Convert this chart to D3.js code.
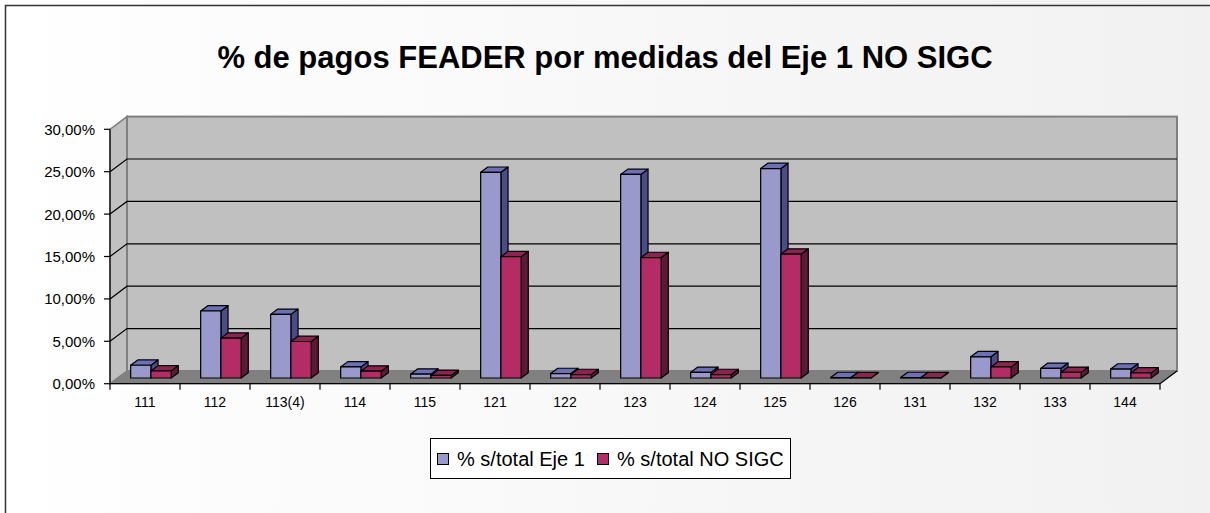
<!DOCTYPE html>
<html>
<head>
<meta charset="utf-8">
<script src="https://cdn.jsdelivr.net/npm/d3@7"></script>
<style>
  body { margin: 0; background: #fff; }
  svg text { font-family: Arial, "Liberation Sans", sans-serif; fill: #000; }
</style>
</head>
<body>
<div id="chart"></div>
<script>
const categories = ['111', '112', '113(4)', '114', '115', '121', '122', '123', '124', '125', '126', '131', '132', '133', '144'];
const seriesNames = ['% s/total Eje 1', '% s/total NO SIGC'];
const ejeValues = [1.5, 7.9, 7.5, 1.3, 0.45, 24.25, 0.52, 24.0, 0.66, 24.7, 0.05, 0.05, 2.5, 1.13, 1.05];
const noSigcValues = [0.83, 4.7, 4.3, 0.8, 0.3, 14.3, 0.4, 14.2, 0.4, 14.6, 0.03, 0.03, 1.3, 0.66, 0.6];
const yTicks = [0, 5, 10, 15, 20, 25, 30];
const titleText = '% de pagos FEADER por medidas del Eje 1 NO SIGC';

const width = 1210, height = 513;
const plot = {left: 110, right: 1160, bottom: 383.7, top: 129.3};
const wall = {dx: 17, dy: -12.7};        // depth of the 3d box
const barFront = 0.45, barBack = 0.87;   // bar depth as fraction of wall depth
const colors = [
    {front: '#9999cc', top: '#6d70b4', side: '#4b4b85'},
    {front: '#b42c66', top: '#8a2552', side: '#5a1a36'}
];

const svg = d3.select('#chart')
    .append('svg')
    .attr('width', width)
    .attr('height', height);

const defs = svg.append('defs');
const bg = defs.append('linearGradient').attr('id', 'bg').attr('x1', 0).attr('x2', 1).attr('y1', 0).attr('y2', 0);
bg.append('stop').attr('offset', '0%').attr('stop-color', '#ffffff');
bg.append('stop').attr('offset', '100%').attr('stop-color', '#f1f1f1');

svg.append('rect')
    .attr('x', 0).attr('y', 0)
    .attr('width', width).attr('height', height)
    .attr('fill', 'url(#bg)');

// outer frame (right and bottom edges are off the picture)
svg.append('path')
    .attr('d', 'M5.5,' + height + ' L5.5,5.5 L' + width + ',5.5')
    .attr('fill', 'none')
    .attr('stroke', '#333')
    .attr('stroke-width', 1.5);

svg.append('text')
    .attr('x', 605)
    .attr('y', 68)
    .attr('text-anchor', 'middle')
    .style('font-size', '31px')
    .style('font-weight', 'bold')
    .text(titleText);

const x = d3.scaleBand()
    .domain(categories)
    .range([plot.left, plot.right]);

const xSeries = d3.scaleBand()
    .domain(seriesNames)
    .range([13, 53.5]);

const y = d3.scaleLinear()
    .domain([0, 30])
    .range([plot.bottom, plot.top]);

function pts(list) {
    return 'M' + list.map(p => p[0] + ',' + p[1]).join('L') + 'Z';
}

const g = svg.append('g');

// left wall
g.append('path')
    .attr('d', pts([[plot.left, plot.top], [plot.left + wall.dx, plot.top + wall.dy],
        [plot.left + wall.dx, plot.bottom + wall.dy], [plot.left, plot.bottom]]))
    .attr('fill', '#c0c0c0')
    .attr('stroke', '#808080')
    .attr('stroke-width', 1.5);

// back wall
g.append('rect')
    .attr('x', plot.left + wall.dx)
    .attr('y', plot.top + wall.dy)
    .attr('width', plot.right - plot.left)
    .attr('height', plot.bottom - plot.top)
    .attr('fill', '#c0c0c0')
    .attr('stroke', '#808080')
    .attr('stroke-width', 2);

// floor
g.append('path')
    .attr('d', pts([[plot.left, plot.bottom], [plot.right, plot.bottom],
        [plot.right + wall.dx, plot.bottom + wall.dy], [plot.left + wall.dx, plot.bottom + wall.dy]]))
    .attr('fill', '#808080')
    .attr('stroke', '#808080')
    .attr('stroke-width', 1);

// gridlines on left and back walls
g.selectAll('.grid')
    .data(yTicks.filter(t => t > 0 && t < 30))
    .enter()
    .append('path')
    .attr('class', 'grid')
    .attr('d', d => 'M' + plot.left + ',' + y(d) +
        'L' + (plot.left + wall.dx) + ',' + (y(d) + wall.dy) +
        'L' + (plot.right + wall.dx) + ',' + (y(d) + wall.dy))
    .attr('fill', 'none')
    .attr('stroke', '#000')
    .attr('stroke-width', 1.2);

// y axis
g.append('line')
    .attr('x1', plot.left).attr('x2', plot.left)
    .attr('y1', plot.top).attr('y2', plot.bottom)
    .attr('stroke', '#000').attr('stroke-width', 1.2);

g.selectAll('.ytick')
    .data(yTicks)
    .enter()
    .append('line')
    .attr('x1', plot.left - 6).attr('x2', plot.left)
    .attr('y1', d => y(d)).attr('y2', d => y(d))
    .attr('stroke', '#000').attr('stroke-width', 1.2);

g.selectAll('.ylabel')
    .data(yTicks)
    .enter()
    .append('text')
    .attr('x', plot.left - 15)
    .attr('y', d => y(d) + 5.4)
    .attr('text-anchor', 'end')
    .style('font-size', '15px')
    .text(d => d.toFixed(2).replace('.', ',') + '%');

// x axis and right floor edge
g.append('path')
    .attr('d', 'M' + plot.left + ',' + plot.bottom + 'L' + plot.right + ',' + plot.bottom +
        'L' + (plot.right + wall.dx) + ',' + (plot.bottom + wall.dy))
    .attr('fill', 'none')
    .attr('stroke', '#000').attr('stroke-width', 1.2);

g.selectAll('.xtick')
    .data(categories.concat(['end']))
    .enter()
    .append('line')
    .attr('x1', (d, i) => plot.left + i * x.bandwidth())
    .attr('x2', (d, i) => plot.left + i * x.bandwidth())
    .attr('y1', plot.bottom).attr('y2', plot.bottom + 6)
    .attr('stroke', '#000').attr('stroke-width', 1.2);

g.selectAll('.xlabel')
    .data(categories)
    .enter()
    .append('text')
    .attr('x', d => x(d) + x.bandwidth() / 2)
    .attr('y', plot.bottom + 23.5)
    .attr('text-anchor', 'middle')
    .style('font-size', '14px')
    .text(d => d);

// 3d bars
const bars = [];
seriesNames.forEach((s, si) => {
    const vals = si === 0 ? ejeValues : noSigcValues;
    categories.forEach((c, ci) => {
        bars.push({cat: c, series: s, si: si, value: vals[ci]});
    });
});

const fx = barFront * wall.dx, fy = barFront * wall.dy;
const bx = (barBack - barFront) * wall.dx, by = (barBack - barFront) * wall.dy;

const barG = g.selectAll('.bar')
    .data(bars)
    .enter()
    .append('g')
    .attr('class', 'bar');

barG.each(function(d) {
    const x0 = x(d.cat) + xSeries(d.series) + fx;
    const x1 = x0 + xSeries.bandwidth();
    const yb = y(0) + fy;
    const yt = y(d.value) + fy;
    const c = colors[d.si];
    const sel = d3.select(this);
    sel.append('path')
        .attr('d', pts([[x1, yt], [x1 + bx, yt + by], [x1 + bx, yb + by], [x1, yb]]))
        .attr('fill', c.side);
    sel.append('path')
        .attr('d', pts([[x0, yt], [x1, yt], [x1 + bx, yt + by], [x0 + bx, yt + by]]))
        .attr('fill', c.top);
    sel.append('rect')
        .attr('x', x0).attr('y', yt)
        .attr('width', x1 - x0).attr('height', yb - yt)
        .attr('fill', c.front);
    sel.selectAll('path, rect')
        .attr('stroke', '#000')
        .attr('stroke-width', 1.2)
        .attr('stroke-linejoin', 'round');
});

// legend
const legend = svg.append('g');
legend.append('rect')
    .attr('x', 430.5).attr('y', 438.5)
    .attr('width', 360).attr('height', 40)
    .attr('fill', '#fff')
    .attr('stroke', '#000')
    .attr('stroke-width', 1);

const legendX = [437, 597];
seriesNames.forEach((s, i) => {
    legend.append('rect')
        .attr('x', legendX[i] + 0.5).attr('y', 453.5)
        .attr('width', 11).attr('height', 11)
        .attr('fill', colors[i].front)
        .attr('stroke', '#000');
    legend.append('text')
        .attr('x', legendX[i] + 20)
        .attr('y', 466)
        .style('font-size', '20px')
        .text(s);
});
</script>
</body>
</html>
